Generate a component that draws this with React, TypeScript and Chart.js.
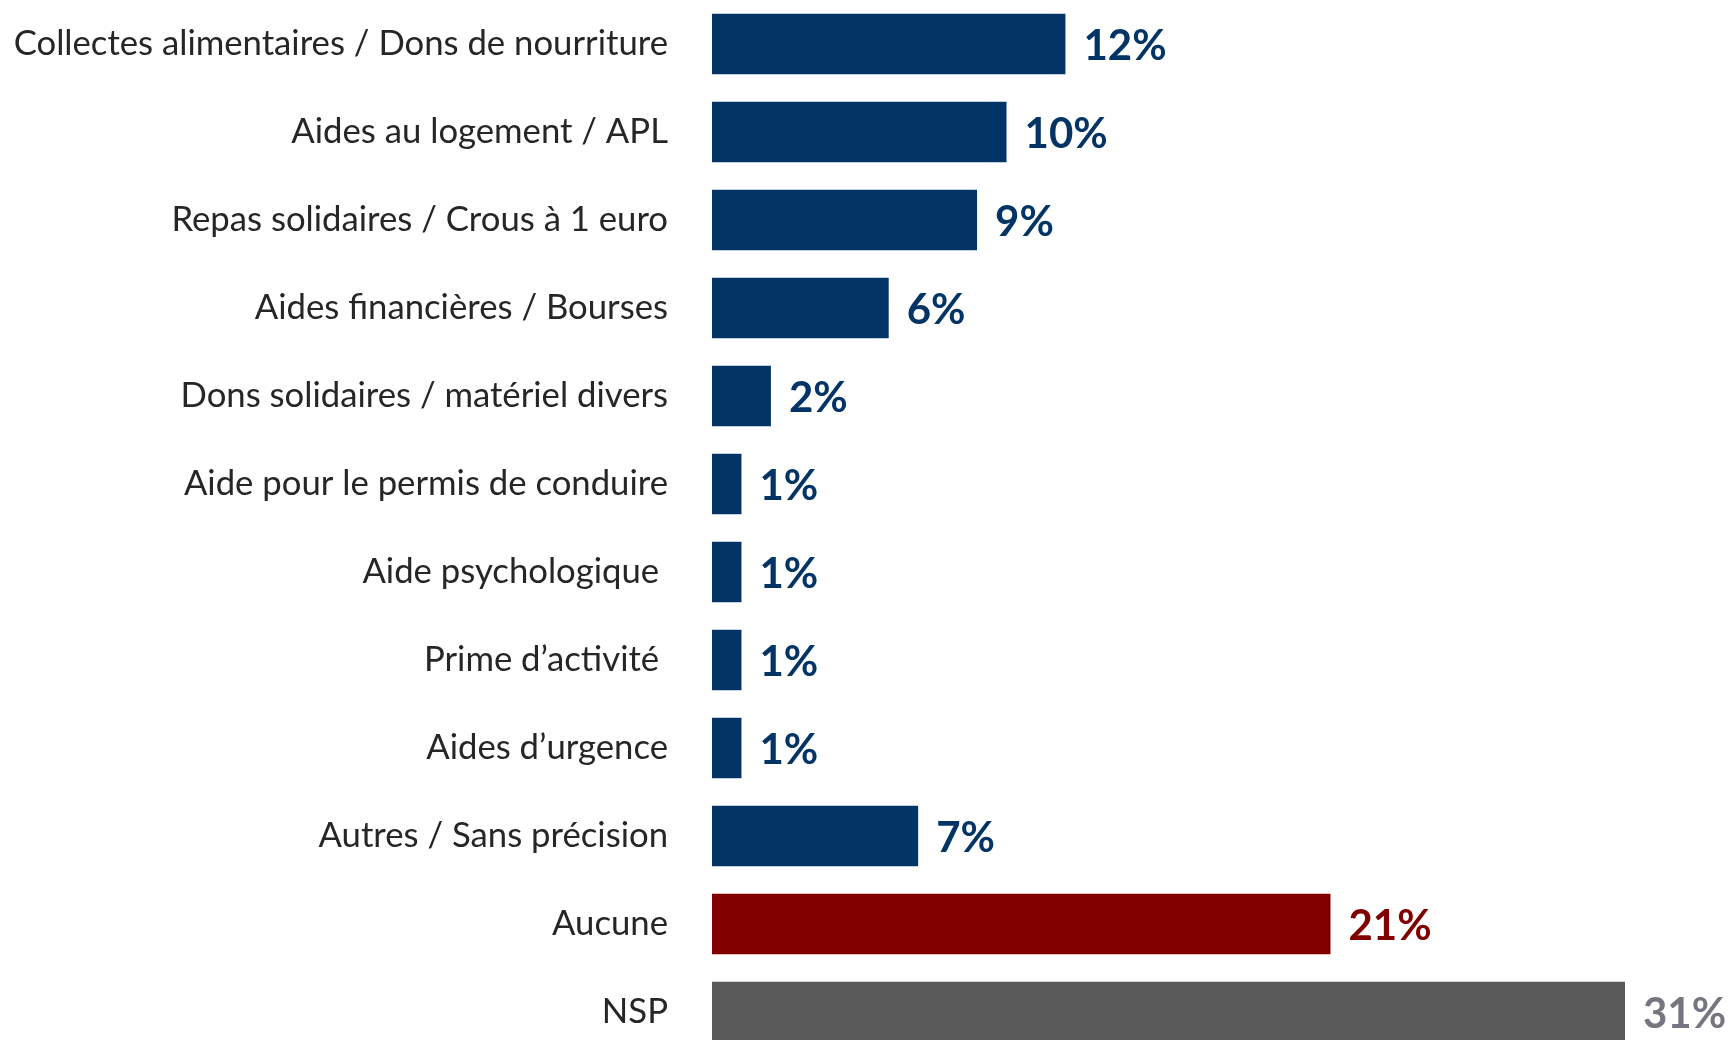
import React, { useEffect, useRef } from "react";
import { Chart, registerables } from "chart.js";

Chart.register(...registerables);

const categories = [
  "Collectes alimentaires / Dons de nourriture",
  "Aides au logement / APL",
  "Repas solidaires / Crous à 1 euro",
  "Aides financières / Bourses",
  "Dons solidaires / matériel divers",
  "Aide pour le permis de conduire",
  "Aide psychologique ",
  "Prime d’activité ",
  "Aides d’urgence",
  "Autres / Sans précision",
  "Aucune",
  "NSP",
];
const values = [12, 10, 9, 6, 2, 1, 1, 1, 1, 7, 21, 31];
const barColors = [
  "#023466", "#023466", "#023466", "#023466", "#023466", "#023466",
  "#023466", "#023466", "#023466", "#023466", "#800000", "#595959",
];
const labelColors = [
  "#023466", "#023466", "#023466", "#023466", "#023466", "#023466",
  "#023466", "#023466", "#023466", "#023466", "#800000", "#767580",
];

const FONT = "Lato, 'Open Sans', sans-serif";

const valueLabels = {
  id: "valueLabels",
  afterDatasetsDraw(chart: any) {
    const ctx = chart.ctx;
    const meta = chart.getDatasetMeta(0);
    ctx.save();
    ctx.font = `bold 42px ${FONT}`;
    ctx.textBaseline = "middle";
    ctx.textAlign = "left";
    meta.data.forEach((bar: any, i: number) => {
      ctx.fillStyle = labelColors[i];
      ctx.fillText(values[i] + "%", bar.x + 18, bar.y + 2);
    });
    ctx.restore();
  },
};

export default function App() {
  const ref = useRef<HTMLCanvasElement>(null);
  useEffect(() => {
    document.body.style.margin = "0";
    const chart = new Chart(ref.current!, {
      type: "bar",
      data: {
        labels: categories,
        datasets: [
          {
            data: values,
            backgroundColor: barColors,
            barPercentage: 0.69,
            categoryPercentage: 1,
          },
        ],
      },
      options: {
        indexAxis: "y",
        animation: false,
        responsive: false,
        devicePixelRatio: 1,
        layout: { padding: { top: 0, bottom: 0, left: 0, right: 104 } },
        plugins: { legend: { display: false }, tooltip: { enabled: false } },
        scales: {
          x: { display: false, min: 0, max: 31 },
          y: {
            grid: { display: false, drawTicks: false },
            border: { display: false },
            ticks: {
              color: "#262626",
              padding: 44,
              font: { family: FONT, size: 34.7 },
            },
            afterFit(scale: any) {
              scale.width = 712;
              scale.paddingTop = 0;
              scale.paddingBottom = 0;
            },
          },
        },
      },
      plugins: [valueLabels],
    });
    return () => chart.destroy();
  }, []);
  return (
    <div style={{ position: "fixed", left: 0, top: 0, width: 1729, height: 1040, overflow: "hidden", background: "#fff" }}>
      <canvas ref={ref} width={1729} height={1056} style={{ display: "block", width: 1729, height: 1056 }} />
    </div>
  );
}
